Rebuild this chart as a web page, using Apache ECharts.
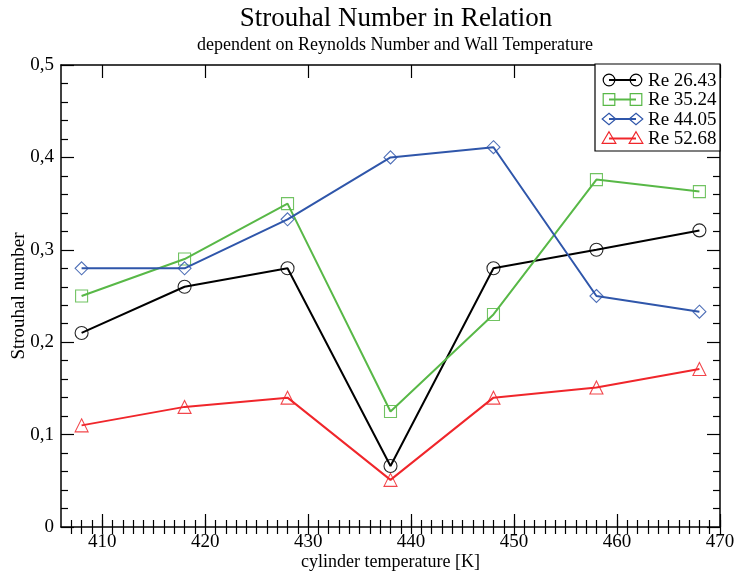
<!DOCTYPE html>
<html><head><meta charset="utf-8">
<script src="https://cdn.jsdelivr.net/npm/echarts@6/dist/echarts.min.js"></script>
<style>html,body{margin:0;padding:0;background:#fff}#c{width:736px;height:576px}</style>
</head><body><div id="c"></div>
<script>
const temperatures = [408, 418, 428, 438, 448, 458, 468];
const seriesNames = ['Re 26.43', 'Re 35.24', 'Re 44.05', 'Re 52.68'];
const re2643 = [0.21, 0.26, 0.28, 0.066, 0.28, 0.30, 0.321];
const re3524 = [0.25, 0.29, 0.35, 0.125, 0.23, 0.376, 0.363];
const re4405 = [0.28, 0.28, 0.333, 0.40, 0.411, 0.25, 0.233];
const re5268 = [0.11, 0.13, 0.14, 0.051, 0.14, 0.151, 0.171];
const xTickLabels = [410, 420, 430, 440, 450, 460, 470];
const xMinorTicks = [];
for (let v = 407; v <= 470; v++) xMinorTicks.push(v);

const values = [re2643, re3524, re4405, re5268];
const colors = ['#000000', '#58b847', '#2f56aa', '#f0262b'];
const symbols = ['circle', 'rect', 'diamond', 'triangle'];
const FONT = 'Liberation Serif';

const chart = echarts.init(document.getElementById('c'), null, {renderer: 'canvas'});
const G = {left: 61, right: 16, top: 65, bottom: 49, outerBoundsMode: 'none', containLabel: false};

const series = values.map((arr, i) => ({
  name: seriesNames[i],
  type: 'line',
  xAxisIndex: 0, yAxisIndex: 0,
  data: temperatures.map((t, k) => [t, arr[k]]),
  symbol: symbols[i],
  symbolSize: i === 1 ? 12 : 13,
  lineStyle: {color: colors[i], width: 2},
  itemStyle: {color: 'rgba(255,255,255,0)', borderColor: colors[i], borderWidth: 1.1, opacity: 0.85},
  emphasis: {disabled: true},
  animation: false,
  z: 3 + i
}));

// legend drawn as graphic
const legX = 595, legY = 64, legW = 125, legH = 87;
const gfx = [{type: 'rect', shape: {x: legX, y: legY, width: legW, height: legH}, style: {fill: '#fff', stroke: '#000', lineWidth: 1.2}, z: 10}];
seriesNames.forEach((n, i) => {
  const cy = legY + 16 + i * 19.5;
  const x1 = legX + 14, x2 = legX + 41;
  gfx.push({type: 'line', shape: {x1: x1, y1: cy, x2: x2, y2: cy}, style: {stroke: colors[i], lineWidth: 2}, z: 11});
  [x1, x2].forEach(x => {
    let el;
    const s = 5.8;
    if (symbols[i] === 'circle') el = {type: 'circle', shape: {cx: x, cy: cy, r: s}};
    else if (symbols[i] === 'rect') el = {type: 'rect', shape: {x: x - s, y: cy - s, width: 2 * s, height: 2 * s}};
    else if (symbols[i] === 'diamond') el = {type: 'polygon', shape: {points: [[x, cy - s], [x + s + 1, cy], [x, cy + s], [x - s - 1, cy]]}};
    else el = {type: 'polygon', shape: {points: [[x, cy - s - 1], [x + s + 1, cy + s - 1], [x - s - 1, cy + s - 1]]}};
    el.style = {fill: 'none', stroke: colors[i], lineWidth: 1.2};
    el.z = 12;
    gfx.push(el);
  });
  gfx.push({type: 'text', style: {text: n, x: legX + 53, y: cy + 1, textVerticalAlign: 'middle', font: '19px "Liberation Serif"', fill: '#000'}, z: 12});
});

const tickLine = {lineStyle: {color: '#000', width: 1.2}};
chart.setOption({
  animation: false,
  title: [
    {text: 'Strouhal Number in Relation', left: 391, top: 0, textAlign: 'center',
     textStyle: {fontFamily: FONT, fontWeight: 'normal', fontSize: 27, color: '#000'}},
    {text: 'dependent on Reynolds Number and Wall Temperature', left: 390, top: 31, textAlign: 'center',
     textStyle: {fontFamily: FONT, fontWeight: 'normal', fontSize: 18, color: '#000'}}
  ],
  grid: G,
  xAxis: [
    {type: 'value', min: 406, max: 470, position: 'bottom',
     axisLine: {show: true, onZero: false, lineStyle: {color: '#000', width: 1.5}},
     axisTick: {show: true, inside: true, length: 13, customValues: xTickLabels, ...tickLine},
     axisLabel: {customValues: xTickLabels, fontFamily: FONT, fontSize: 19, color: '#000', margin: 6},
     splitLine: {show: false},
     name: 'cylinder temperature [K]', nameLocation: 'middle', nameGap: 26, nameMoveOverlap: false,
     nameTextStyle: {fontFamily: FONT, fontSize: 18, color: '#000'}},
    {type: 'value', min: 406, max: 470, position: 'bottom',
     axisLine: {show: false},
     axisTick: {show: true, inside: true, length: 7, customValues: xMinorTicks, ...tickLine},
     axisLabel: {show: false}, splitLine: {show: false}},
    {type: 'value', min: 406, max: 470, position: 'top',
     axisLine: {show: true, onZero: false, lineStyle: {color: '#000', width: 1.5}},
     axisTick: {show: true, inside: true, length: 13, customValues: xTickLabels, ...tickLine},
     axisLabel: {show: false}, splitLine: {show: false}},
    {type: 'value', min: 406, max: 470, position: 'top',
     axisLine: {show: false},
     axisTick: {show: true, inside: true, length: 7, customValues: xMinorTicks, ...tickLine},
     axisLabel: {show: false}, splitLine: {show: false}}
  ],
  yAxis: [
    {type: 'value', min: 0, max: 0.5, interval: 0.1, position: 'left',
     axisLine: {show: true, onZero: false, lineStyle: {color: '#000', width: 1.5}},
     axisTick: {show: true, inside: true, length: 13, ...tickLine},
     minorTick: {show: true, splitNumber: 5, length: 7, lineStyle: {color: '#000', width: 1.2}},
     axisLabel: {fontFamily: FONT, fontSize: 19, color: '#000', margin: 7,
       formatter: v => String(Math.round(v * 10) / 10).replace('.', ',')},
     splitLine: {show: false},
     name: 'Strouhal number', nameLocation: 'middle', nameGap: 32, nameRotate: 90, nameMoveOverlap: false,
     nameTextStyle: {fontFamily: FONT, fontSize: 19, color: '#000'}},
    {type: 'value', min: 0, max: 0.5, interval: 0.1, position: 'right',
     axisLine: {show: true, onZero: false, lineStyle: {color: '#000', width: 1.5}},
     axisTick: {show: true, inside: true, length: 13, ...tickLine},
     minorTick: {show: true, splitNumber: 5, length: 7, lineStyle: {color: '#000', width: 1.2}},
     axisLabel: {show: false}, splitLine: {show: false}}
  ],
  series: series,
  graphic: gfx
});
</script></body></html>
